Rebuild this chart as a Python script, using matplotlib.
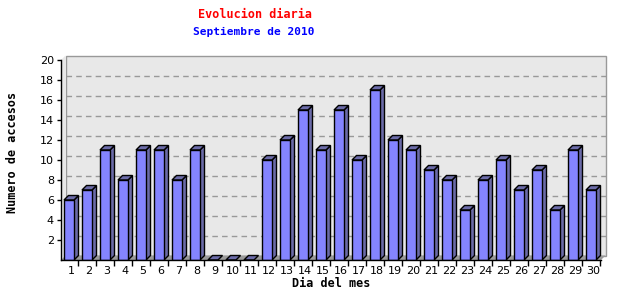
import matplotlib.pyplot as plt
from matplotlib.patches import Polygon, Rectangle
import numpy as np

# visitas por dia, septiembre 2010
dias = list(range(1, 31))
accesos = [6, 7, 11, 8, 11, 11, 8, 11, 0, 0, 0, 10, 12, 15, 11,
           15, 10, 17, 12, 11, 9, 8, 5, 8, 10, 7, 9, 5, 11, 7]
yticks = [2, 4, 6, 8, 10, 12, 14, 16, 18, 20]

front_col = '#8484ff'
side_col = '#6b6ba8'
wall_col = '#e8e8e8'
floor_col = '#9a9a9a'

# depth of the fake 3D, in data units (1 slot = 18px, 1 unit = 10px)
dx = 0.25
dy = 0.45
bw = 10 / 18.0
off = 3 / 18.0

fig = plt.figure(figsize=(6.4, 3.0), dpi=100)
ax = fig.add_axes([61 / 640, 40 / 300, 540 / 640, 200 / 300])
ax.set_xlim(0.5, 30.5)
ax.set_ylim(0, 20)
for s in ax.spines.values():
    s.set_visible(False)

# back wall, left wall, floor
ax.add_patch(Rectangle((0.5 + dx, dy), 30, 20, facecolor=wall_col, edgecolor='#999999',
                       lw=1, clip_on=False, zorder=0))
ax.add_patch(Polygon([(0.5, 0), (0.5 + dx, dy), (0.5 + dx, 20 + dy), (0.5, 20)],
                     closed=True, facecolor=wall_col, edgecolor='none', clip_on=False, zorder=0))
ax.add_patch(Polygon([(0.5, 0), (30.5, 0), (30.5 + dx, dy), (0.5 + dx, dy)],
                     closed=True, facecolor=floor_col, edgecolor='none', clip_on=False, zorder=0.5))

# dashed grid on the back wall
for v in yticks[:-1]:
    ax.plot([0.5 + dx, 30.5 + dx], [v + dy, v + dy], color='#999999', lw=1,
            ls=(0, (4, 3)), zorder=0.6, clip_on=False)

# bars
lefts = np.array(dias) - 0.5 + off
ax.bar(lefts, accesos, width=bw, align='edge', color=front_col, edgecolor='black',
       lw=1, zorder=3)
for x0, v in zip(lefts, accesos):
    x1 = x0 + bw
    top = [(x0, v), (x1, v), (x1 + dx, v + dy), (x0 + dx, v + dy)]
    side = [(x1, 0), (x1 + dx, dy), (x1 + dx, v + dy), (x1, v)]
    if v > 0:
        ax.add_patch(Polygon(side, closed=True, facecolor=side_col, edgecolor='black',
                             lw=1, zorder=2, clip_on=False))
    ax.add_patch(Polygon(top, closed=True, facecolor=side_col, edgecolor='black',
                         lw=1, zorder=2.5, clip_on=False))

# axes lines
ax.plot([0.5, 0.5], [0, 20], color='black', lw=1, zorder=4, clip_on=False)
ax.plot([0.5, 30.5], [0, 0], color='black', lw=1, zorder=4, clip_on=False)

ax.set_yticks(yticks)
ax.set_yticklabels([str(v) for v in yticks], fontsize=8, family='DejaVu Sans')
ax.tick_params(axis='y', length=3, width=1, pad=2, color='black')

ax.set_xticks(np.array(dias) + 0.056)
ax.set_xticklabels([str(d) for d in dias], fontsize=8, family='DejaVu Sans')
ax.tick_params(axis='x', length=0, pad=4)
ax.set_xticks(np.array(dias) + 0.46, minor=True)
ax.tick_params(axis='x', which='minor', length=4, width=1, color='black')

ax.set_xlabel('Dia del mes', fontsize=8.5, family='DejaVu Sans Mono', weight='bold',
              labelpad=1)
ax.set_ylabel('Numero de accesos', fontsize=8.5, family='DejaVu Sans Mono',
              weight='bold')
ax.yaxis.set_label_coords(-0.077, 0.54)

fig.text(255 / 640, 1 - 14 / 300, 'Evolucion diaria', color='red', fontsize=8.5,
         family='DejaVu Sans Mono', weight='bold', ha='center', va='center')
fig.text(254 / 640, 1 - 32 / 300, 'Septiembre de 2010', color='blue', fontsize=8,
         family='DejaVu Sans Mono', weight='bold', ha='center', va='center')

fig.savefig('out.png', dpi=100)
